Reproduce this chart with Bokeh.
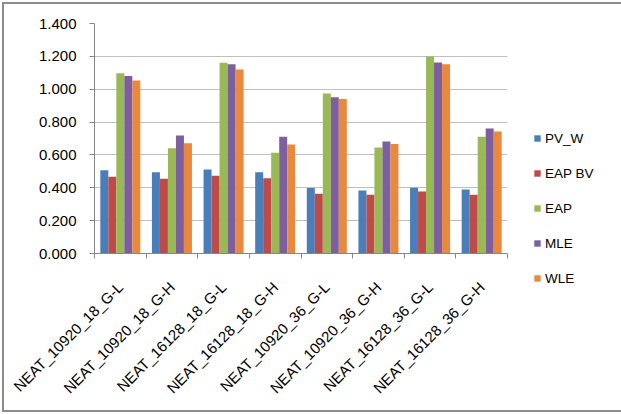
import math
from bokeh.plotting import figure
from bokeh.models import ColumnDataSource, FixedTicker, NumeralTickFormatter, Range1d, Legend, LegendItem
from bokeh.embed import file_html
from bokeh.resources import INLINE

categories = ["NEAT_10920_18_G-L", "NEAT_10920_18_G-H", "NEAT_16128_18_G-L", "NEAT_16128_18_G-H",
              "NEAT_10920_36_G-L", "NEAT_10920_36_G-H", "NEAT_16128_36_G-L", "NEAT_16128_36_G-H"]
series_names = ["PV_W", "EAP BV", "EAP", "MLE", "WLE"]
pv_w   = [0.507, 0.495, 0.511, 0.495, 0.398, 0.383, 0.400, 0.390]
eap_bv = [0.467, 0.455, 0.473, 0.458, 0.363, 0.357, 0.377, 0.357]
eap    = [1.097, 0.641, 1.161, 0.613, 0.974, 0.645, 1.199, 0.710]
mle    = [1.081, 0.718, 1.152, 0.710, 0.951, 0.682, 1.162, 0.761]
wle    = [1.053, 0.671, 1.120, 0.663, 0.941, 0.667, 1.152, 0.742]
series_values = [pv_w, eap_bv, eap, mle, wle]
y_ticks = [0.0, 0.2, 0.4, 0.6, 0.8, 1.0, 1.2, 1.4]

colors = ["#4A7EBB", "#BE4B48", "#98B954", "#7D5FA0", "#E8893E"]
FONT = "Liberation Sans"

p = figure(frame_width=413, frame_height=230, output_backend="svg", toolbar_location=None,
           x_range=Range1d(0, len(categories)), y_range=Range1d(0, 1.4))
p.min_border_left = 90
p.min_border_right = 105
p.min_border_top = 19
p.min_border_bottom = 157
p.outline_line_color = None
p.background_fill_color = "white"
p.border_fill_color = "white"
p.styles = {"margin-left": "2px", "margin-top": "2px", "border": "2px solid #8c8c8c"}

bw = 0.155
centers = [i + 0.5 for i in range(len(categories))]
items = []
for k, (name, vals) in enumerate(zip(series_names, series_values)):
    off = (k - 2) * bw
    src = ColumnDataSource(dict(x=[c + off for c in centers], top=vals))
    r = p.vbar(x="x", top="top", width=bw, source=src, fill_color=colors[k],
               line_color=None)
    items.append(LegendItem(label=name, renderers=[r]))

# y axis
p.yaxis.ticker = FixedTicker(ticks=y_ticks)
p.yaxis.formatter = NumeralTickFormatter(format="0.000")
p.yaxis.axis_line_color = "#868686"
p.yaxis.major_tick_line_color = "#868686"
p.yaxis.major_tick_out = 5
p.yaxis.major_tick_in = 0
p.yaxis.minor_tick_line_color = None
p.yaxis.major_label_standoff = 13
p.yaxis.major_label_text_font = FONT
p.yaxis.major_label_text_font_size = "15px"
p.yaxis.major_label_text_color = "#000000"

# x axis
p.xaxis.ticker = FixedTicker(ticks=centers, minor_ticks=list(range(len(categories) + 1)))
p.xaxis.major_label_overrides = {c: lab for c, lab in zip(centers, categories)}
p.xaxis.major_label_orientation = math.pi / 4
p.xaxis.major_tick_line_color = None
p.xaxis.minor_tick_line_color = "#868686"
p.xaxis.minor_tick_out = 5
p.xaxis.minor_tick_in = 0
p.xaxis.axis_line_color = "#868686"
p.xaxis.major_label_standoff = 25
p.xaxis.major_label_text_font = FONT
p.xaxis.major_label_text_font_size = "15px"
p.xaxis.major_label_text_color = "#000000"

p.xgrid.grid_line_color = None
p.ygrid.ticker = FixedTicker(ticks=y_ticks)
p.ygrid.grid_line_color = "#BFBFBF"

lg = Legend(items=items, location=(26, -35))
lg.border_line_color = None
lg.background_fill_alpha = 0
lg.padding = 0
lg.margin = 0
lg.glyph_width = 8
lg.glyph_height = 8
lg.label_height = 20
lg.spacing = 15
lg.label_standoff = 4
lg.label_text_font = FONT
lg.label_text_font_size = "13.5px"
lg.label_text_color = "#000000"
p.add_layout(lg, "right")

open("out.html", "w").write(file_html(p, INLINE))
